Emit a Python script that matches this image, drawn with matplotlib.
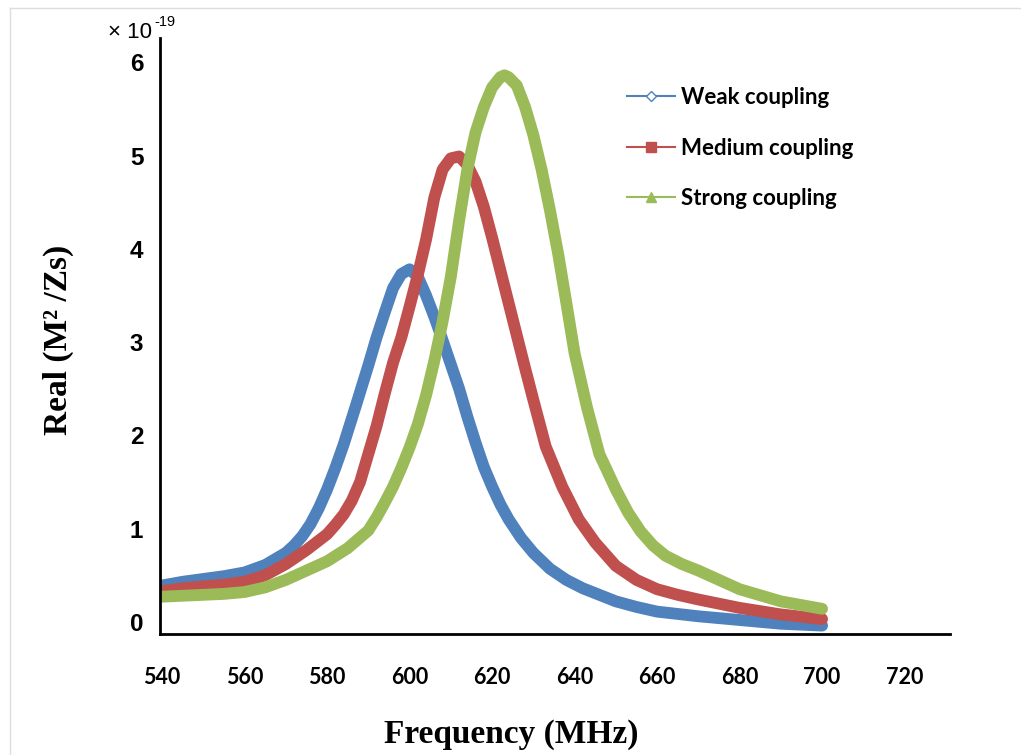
import matplotlib
matplotlib.use("Agg")
import matplotlib.pyplot as plt
from matplotlib.lines import Line2D

# ---------------- data (units of 1e-19) ----------------
weak_f = [540, 545, 550, 555, 560, 565, 570, 572, 574, 576, 578, 580, 582, 584, 587, 590,
          592, 594, 596, 598, 600, 602, 604, 606, 608, 610, 612, 614, 616, 618, 620, 622,
          624, 627, 630, 634, 638, 642, 646, 650, 655, 660, 670, 680, 690, 700]
weak_v = [0.39, 0.43, 0.46, 0.49, 0.53, 0.61, 0.74, 0.82, 0.92, 1.05, 1.22, 1.42, 1.65, 1.9, 2.32, 2.75,
          3.05, 3.32, 3.58, 3.73, 3.78, 3.7, 3.5, 3.27, 3.02, 2.76, 2.5, 2.2, 1.92, 1.66, 1.45, 1.26,
          1.1, 0.9, 0.74, 0.57, 0.45, 0.36, 0.29, 0.22, 0.16, 0.11, 0.06, 0.02, -0.02, -0.04]

medium_f = [540, 545, 550, 555, 560, 565, 570, 575, 580, 582, 584, 586, 588, 590, 592, 594,
            596, 598, 600, 602, 604, 606, 608, 610, 612, 614, 616, 618, 620, 622, 624, 626,
            628, 630, 633, 637, 641, 645, 650, 655, 660, 665, 670, 680, 690, 700]
medium_v = [0.33, 0.36, 0.38, 0.4, 0.43, 0.5, 0.62, 0.77, 0.94, 1.04, 1.15, 1.3, 1.5, 1.8, 2.1, 2.45,
            2.78, 3.05, 3.38, 3.72, 4.1, 4.55, 4.85, 4.97, 4.99, 4.9, 4.72, 4.45, 4.12, 3.77, 3.42, 3.07,
            2.72, 2.38, 1.88, 1.45, 1.1, 0.85, 0.6, 0.45, 0.35, 0.29, 0.24, 0.15, 0.08, 0.03]

strong_f = [540, 545, 550, 555, 560, 565, 570, 575, 580, 585, 590, 592, 594, 596, 598, 600,
            602, 604, 606, 608, 610, 612, 614, 616, 618, 620, 622, 623, 624, 626, 628, 630,
            632, 634, 636, 638, 640, 643, 646, 650, 653, 656, 659, 662, 666, 670, 680, 690, 700]
strong_v = [0.27, 0.28, 0.29, 0.3, 0.32, 0.37, 0.45, 0.55, 0.65, 0.79, 0.98, 1.12, 1.28, 1.45, 1.65, 1.87,
            2.12, 2.43, 2.8, 3.22, 3.7, 4.3, 4.85, 5.25, 5.52, 5.73, 5.84, 5.86, 5.84, 5.75, 5.52, 5.22,
            4.85, 4.42, 3.95, 3.42, 2.88, 2.3, 1.8, 1.42, 1.17, 0.97, 0.82, 0.71, 0.62, 0.55, 0.35, 0.22, 0.14]

series_names = ["Weak coupling", "Medium coupling", "Strong coupling"]
x_ticks = [540, 560, 580, 600, 620, 640, 660, 680, 700, 720]
y_ticks = [0, 1, 2, 3, 4, 5, 6]

# ---------------- figure ----------------
W, H = 1021, 755
fig = plt.figure(figsize=(W / 100, H / 100), dpi=100)
fig.patch.set_facecolor("white")
ax = fig.add_axes([160 / W, 1 - 634 / H, (950 - 160) / W, (634 - 38) / H])

blue, red, green = "#4F81BD", "#C0504D", "#9BBB59"
lw = 8.5
for f, v, c in [(weak_f, weak_v, blue), (medium_f, medium_v, red), (strong_f, strong_v, green)]:
    ax.plot(f, v, color=c, lw=lw, solid_capstyle="round", solid_joinstyle="round")

ax.set_xlim(539.5, 731)
ax.set_ylim(-0.13, 6.26)
ax.set_xticks(x_ticks)
ax.set_yticks(y_ticks)
ax.set_xticklabels([str(t) for t in x_ticks], fontfamily="Lato", fontweight="bold", fontsize=15.5)
ax.set_yticklabels([str(t) for t in y_ticks], fontfamily="Liberation Sans", fontweight="bold", fontsize=17.5)
ax.tick_params(axis="x", length=0, pad=24)
ax.tick_params(axis="y", length=0, pad=12)
for s in ["top", "right"]:
    ax.spines[s].set_visible(False)
for s in ["left", "bottom"]:
    ax.spines[s].set_linewidth(2)
    ax.spines[s].set_color("black")

# multiplier
fig.text(108 / W, 1 - 38 / H, "× 10", fontfamily="Liberation Sans", fontsize=16, va="baseline", ha="left")
fig.text(154 / W, 1 - 26 / H, "-19", fontfamily="Liberation Sans", fontsize=10.5, va="baseline", ha="left")

# axis labels
fig.text(58 / W, 1 - 340 / H, "Real (M² /Zs)", rotation=90, fontfamily="Liberation Serif",
         fontweight="bold", fontsize=24, ha="center", va="center")
fig.text(511 / W, 1 - 734 / H, "Frequency (MHz)", fontfamily="Liberation Serif",
         fontweight="bold", fontsize=24, ha="center", va="center")

# legend
handles = [
    Line2D([], [], color=blue, lw=1.5, marker="D", markersize=5, markerfacecolor="white",
           markeredgecolor=blue),
    Line2D([], [], color=red, lw=1.5, marker="s", markersize=7, markerfacecolor=red, markeredgecolor=red),
    Line2D([], [], color=green, lw=1.5, marker="^", markersize=7, markerfacecolor=green,
           markeredgecolor=green),
]
leg = fig.legend(handles, series_names, loc="upper left", bbox_to_anchor=(627 / W, 1 - 87 / H),
                 frameon=False, borderpad=0, borderaxespad=0, handlelength=2.15, handletextpad=0.3,
                 labelspacing=1.33, prop={"family": "Lato", "weight": "bold", "size": 16})

# light border of the screenshot
fig.add_artist(Line2D([10 / W, 10 / W], [0, 1 - 8 / H], color="#dddddd", lw=1))
fig.add_artist(Line2D([10 / W, 1], [1 - 8 / H, 1 - 8 / H], color="#dddddd", lw=1))

fig.savefig("out.png", dpi=100)
